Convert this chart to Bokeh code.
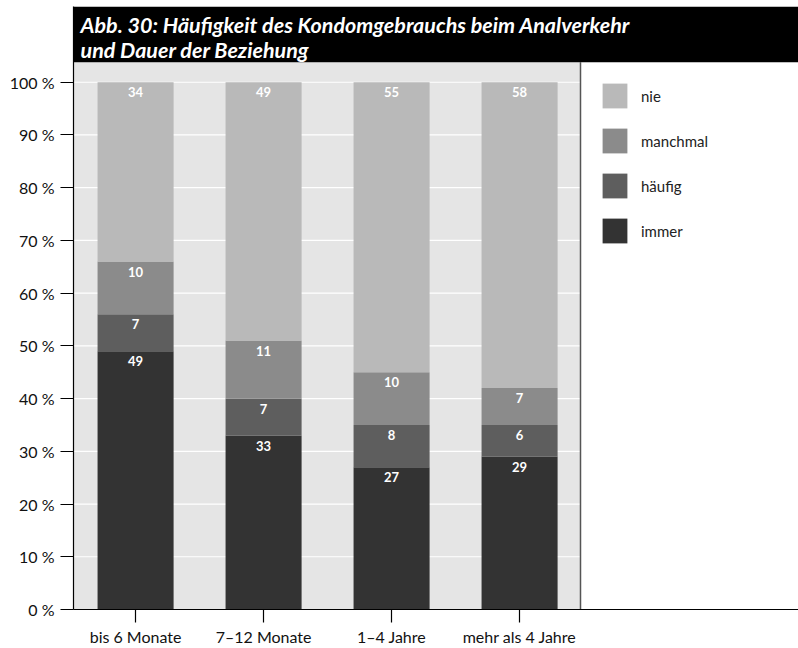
from bokeh.plotting import figure
from bokeh.models import (Range1d, FixedTicker, BoxAnnotation, Label, Legend,
                          LegendItem, ColumnDataSource, PrintfTickFormatter)
from bokeh.core.properties import value
from bokeh.embed import file_html
from bokeh.resources import INLINE

# --- data -------------------------------------------------------------
categories = ["bis 6 Monate", "7–12 Monate", "1–4 Jahre", "mehr als 4 Jahre"]
series = ["immer", "häufig", "manchmal", "nie"]
immer = [49, 33, 27, 29]
haeufig = [7, 7, 8, 6]
manchmal = [10, 11, 10, 7]
nie = [34, 49, 55, 58]
y_ticks = [0, 10, 20, 30, 40, 50, 60, 70, 80, 90, 100]

colors = ["#333333", "#5e5e5e", "#8b8b8b", "#b9b9b9"]
FONT = "Lato"

# --- geometry ---------------------------------------------------------
W, H = 798, 648
X0 = 0.015                      # left edge of x range
PX_X = 128.0                    # pixels per category
PX_Y = 5.29                     # pixels per percent
frame_w = W - 73
frame_h = H - 6 - 37
x_end = X0 + frame_w / PX_X
y_end = frame_h / PX_Y
plot_right = X0 + 507 / PX_X    # right edge of the grey plotting area
title_bottom = 549 / PX_Y       # lower edge of the black title bar

x = [i + 0.5 for i in range(len(categories))]
data = {"x": x, "immer": immer, "häufig": haeufig, "manchmal": manchmal, "nie": nie}
src = ColumnDataSource(data)

p = figure(width=W, height=H, output_backend="svg", toolbar_location=None,
           x_range=Range1d(X0, x_end), y_range=Range1d(0, y_end),
           min_border_left=73, min_border_right=0, min_border_top=6,
           min_border_bottom=37)
p.outline_line_color = None
p.background_fill_color = "white"
p.border_fill_color = "white"
p.xgrid.visible = False
p.ygrid.visible = False

# grey plotting area
p.add_layout(BoxAnnotation(right=plot_right, top=title_bottom, fill_color="#e5e5e5",
                           fill_alpha=1, line_color=None, level="underlay"))

# white grid lines across the grey area
p.segment(x0=[X0] * len(y_ticks), x1=[plot_right] * len(y_ticks), y0=y_ticks, y1=y_ticks,
          line_color="white", line_width=1.2)

# divider between plot and legend area
p.segment(x0=[plot_right], x1=[plot_right], y0=[0], y1=[title_bottom],
          line_color="#555555", line_width=1.5)

# stacked bars
renderers = p.vbar_stack(series, x="x", width=0.594, source=src, color=colors,
                         line_color=None)

# value labels at the top of each segment
lx, ly, lt = [], [], []
cum = [0] * len(categories)
for vals in (immer, haeufig, manchmal, nie):
    for i, v in enumerate(vals):
        cum[i] += v
        lx.append(x[i])
        ly.append(cum[i])
        lt.append(str(v))
p.text(x=lx, y=ly, text=lt, text_color="white", text_font=value(FONT),
       text_font_style="bold", text_font_size="13px", text_align="center",
       text_baseline="top", y_offset=5)

# title bar
p.add_layout(BoxAnnotation(bottom=title_bottom, fill_color="black", fill_alpha=1,
                           line_color=None))
title_lines = ["Abb. 30: Häufigkeit des Kondomgebrauchs beim Analverkehr",
               "und Dauer der Beziehung"]
for k, line in enumerate(title_lines):
    p.add_layout(Label(x=X0 + 7 / PX_X, y=(611 - 25 - 25 * k) / PX_Y, text=line,
                       text_color="white", text_font=FONT, text_font_style="bold italic",
                       text_font_size="21.5px", text_baseline="alphabetic"))

# axes
p.yaxis.ticker = FixedTicker(ticks=y_ticks)
p.yaxis.formatter = PrintfTickFormatter(format="%d %%")
p.yaxis.minor_tick_line_color = None
p.yaxis.major_tick_out = 13
p.yaxis.major_tick_in = 0
p.yaxis.major_label_standoff = 6
p.yaxis.axis_line_color = "black"
p.yaxis.major_tick_line_color = "black"

p.xaxis.ticker = FixedTicker(ticks=x)
p.xaxis.major_label_overrides = {xi: c for xi, c in zip(x, categories)}
p.xaxis.minor_tick_line_color = None
p.xaxis.major_tick_out = 13
p.xaxis.major_tick_in = 0
p.xaxis.major_label_standoff = 4
p.xaxis.axis_line_color = "black"
p.xaxis.major_tick_line_color = "black"

for ax in (p.xaxis, p.yaxis):
    ax.major_label_text_font = FONT
    ax.major_label_text_font_size = "16px"
    ax.major_label_text_color = "#111111"
    ax.axis_line_width = 1.2
    ax.major_tick_line_width = 1.2

# legend (top entry first)
items = [LegendItem(label=s, renderers=[r]) for s, r in zip(series, renderers)][::-1]
legend = Legend(items=items, location=(526, 363), glyph_width=31, glyph_height=31,
                spacing=14, label_standoff=11, padding=0, margin=0,
                border_line_color=None, background_fill_alpha=0,
                label_text_font=FONT, label_text_font_size="15px",
                label_text_color="#222222")
p.add_layout(legend)

open("out.html", "w", encoding="utf-8").write(file_html(p, INLINE))
